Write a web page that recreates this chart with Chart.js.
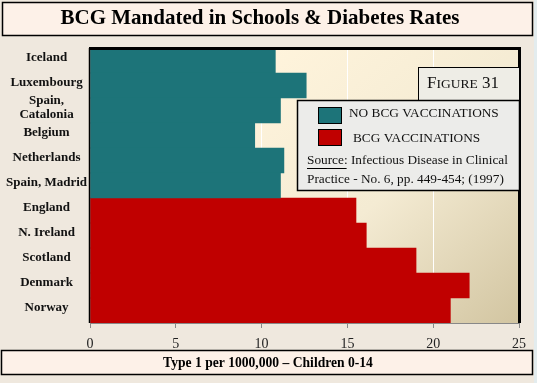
<!DOCTYPE html>
<html>
<head>
<meta charset="utf-8">
<script src="https://cdn.jsdelivr.net/npm/chart.js@4/dist/chart.umd.min.js"></script>
<style>
html,body{margin:0;padding:0;background:#EFE8DE;}
canvas{display:block;}
</style>
</head>
<body>
<canvas id="c" width="537" height="383"></canvas>
<script>
const countries = ['Iceland','Luxembourg',['Spain,','Catalonia'],'Belgium','Netherlands','Spain, Madrid','England','N. Ireland','Scotland','Denmark','Norway'];
const noBcgRates = [10.8, 12.6, 11.1, 9.6, 11.3, 11.1, null, null, null, null, null];
const bcgRates   = [null, null, null, null, null, null, 15.5, 16.1, 19.0, 22.1, 21.0];
const xTicks = [0, 5, 10, 15, 20, 25];
const chartTitle = 'BCG Mandated in Schools & Diabetes Rates';
const xTitle = 'Type 1 per 1000,000 \u2013 Children 0-14';
const legendLabels = ['NO BCG VACCINATIONS', 'BCG VACCINATIONS'];
const sourceLines = ['Source:', ' Infectious Disease in Clinical', 'Practice - No. 6, pp. 449-454; (1997)'];

const TEAL = '#1D7479';
const RED = '#C00000';
const SERIF = '"Liberation Serif", "Times New Roman", serif';

const decor = {
  id: 'decor',
  beforeDraw(chart) {
    const ctx = chart.ctx;
    const a = chart.chartArea;
    ctx.save();
    ctx.fillStyle = '#EFE8DE';
    ctx.fillRect(0, 0, 537, 383);
    ctx.fillStyle = '#E3ECEE';
    ctx.fillRect(534, 0, 3, 383);
    // title box
    ctx.fillStyle = '#FDF1E8';
    ctx.fillRect(2, 2, 531, 33);
    ctx.strokeStyle = '#000';
    ctx.lineWidth = 1.5;
    ctx.strokeRect(2.5, 2.5, 530, 33);
    ctx.fillStyle = '#000';
    ctx.font = 'bold 21px ' + SERIF;
    ctx.textAlign = 'center';
    ctx.textBaseline = 'middle';
    ctx.fillText(chartTitle, 260, 19);
    // x title box
    ctx.fillStyle = '#FDF1E8';
    ctx.fillRect(1, 350, 532, 24);
    ctx.strokeRect(1.5, 350.5, 531, 24);
    ctx.fillStyle = '#000';
    ctx.font = 'bold 13.6px ' + SERIF;
    ctx.fillText(xTitle, 268, 363);
    // plot gradient
    const g = ctx.createLinearGradient(a.left + 180, a.top, a.right, a.bottom);
    g.addColorStop(0, '#FFF4DC');
    g.addColorStop(0.5, '#F4EBD3');
    g.addColorStop(1, '#D2C5A1');
    ctx.fillStyle = g;
    ctx.fillRect(a.left, a.top, a.right - a.left, a.bottom - a.top);
    ctx.restore();
  },
  afterDraw(chart) {
    const ctx = chart.ctx;
    const a = chart.chartArea;
    ctx.save();
    ctx.strokeStyle = '#000';
    // top & right thick borders
    ctx.lineWidth = 3;
    ctx.beginPath();
    ctx.moveTo(a.left - 1, a.top + 0.5);
    ctx.lineTo(a.right + 2, a.top + 0.5);
    ctx.moveTo(a.right + 0.5, a.top);
    ctx.lineTo(a.right + 0.5, a.bottom);
    ctx.stroke();
    ctx.lineWidth = 1.5;
    ctx.beginPath();
    ctx.moveTo(a.left - 0.5, a.top);
    ctx.lineTo(a.left - 0.5, a.bottom);
    ctx.stroke();
    // FIGURE box
    ctx.fillStyle = '#EEEDE6';
    ctx.fillRect(418, 67, 101, 33);
    ctx.lineWidth = 1;
    ctx.strokeRect(418.5, 67.5, 101, 33);
    ctx.fillStyle = '#111';
    ctx.textBaseline = 'alphabetic';
    ctx.textAlign = 'left';
    let x = 427;
    ctx.font = '17px ' + SERIF;
    ctx.fillText('F', x, 88); x += ctx.measureText('F').width;
    ctx.font = '13.5px ' + SERIF;
    ctx.fillText('IGURE', x, 88); x += ctx.measureText('IGURE').width;
    ctx.font = '17px ' + SERIF;
    ctx.fillText(' 31', x, 88);
    // legend box
    ctx.fillStyle = '#ECECEA';
    ctx.fillRect(297, 100, 222, 91);
    ctx.lineWidth = 1.5;
    ctx.strokeRect(297.5, 100.5, 222, 90);
    ctx.lineWidth = 1;
    ctx.fillStyle = TEAL;
    ctx.fillRect(318, 107, 24, 17);
    ctx.strokeRect(318.5, 107.5, 23, 16);
    ctx.fillStyle = RED;
    ctx.fillRect(318, 129, 24, 17);
    ctx.strokeRect(318.5, 129.5, 23, 16);
    ctx.fillStyle = '#111';
    ctx.font = '13.3px ' + SERIF;
    ctx.textBaseline = 'middle';
    ctx.fillText(legendLabels[0], 349, 114);
    ctx.fillText(legendLabels[1], 353, 139);
    ctx.fillText(sourceLines[0], 307, 161);
    const sw = ctx.measureText(sourceLines[0]).width;
    ctx.fillText(sourceLines[1], 307 + sw, 161);
    ctx.beginPath();
    ctx.moveTo(307, 168.5);
    ctx.lineTo(307 + sw - 1, 168.5);
    ctx.stroke();
    ctx.fillText(sourceLines[2], 307, 180);
    ctx.restore();
  }
};

new Chart(document.getElementById('c'), {
  type: 'bar',
  data: {
    labels: countries,
    datasets: [
      { label: legendLabels[0], data: noBcgRates, backgroundColor: TEAL, borderWidth: 0, grouped: false, barPercentage: 1, categoryPercentage: 1 },
      { label: legendLabels[1], data: bcgRates, backgroundColor: RED, borderWidth: 0, grouped: false, barPercentage: 1, categoryPercentage: 1 }
    ]
  },
  options: {
    indexAxis: 'y',
    responsive: false,
    animation: false,
    layout: { padding: { top: 48, right: 18, left: 0, bottom: 0 } },
    plugins: { legend: { display: false }, title: { display: false }, tooltip: { enabled: false } },
    scales: {
      x: {
        type: 'linear', min: 0, max: 25,
        afterFit(s) { s.height = 60; },
        afterBuildTicks(s) { s.ticks = xTicks.map(v => ({ value: v })); },
        ticks: { color: '#222', padding: 8, font: { family: SERIF, size: 14 } },
        grid: { color: '#FFFFFF', lineWidth: 1, drawTicks: true, tickLength: 5, tickColor: '#888' },
        border: { display: true, color: '#888', width: 1 }
      },
      y: {
        afterFit(s) { s.width = 90; },
        ticks: { color: '#111', crossAlign: 'center', padding: 3, labelOffset: -3, autoSkip: false, font: { family: SERIF, size: 13, weight: 'bold', lineHeight: 1.1 } },
        grid: { display: false, drawTicks: false },
        border: { display: false }
      }
    }
  },
  plugins: [decor]
});
</script>
</body>
</html>
